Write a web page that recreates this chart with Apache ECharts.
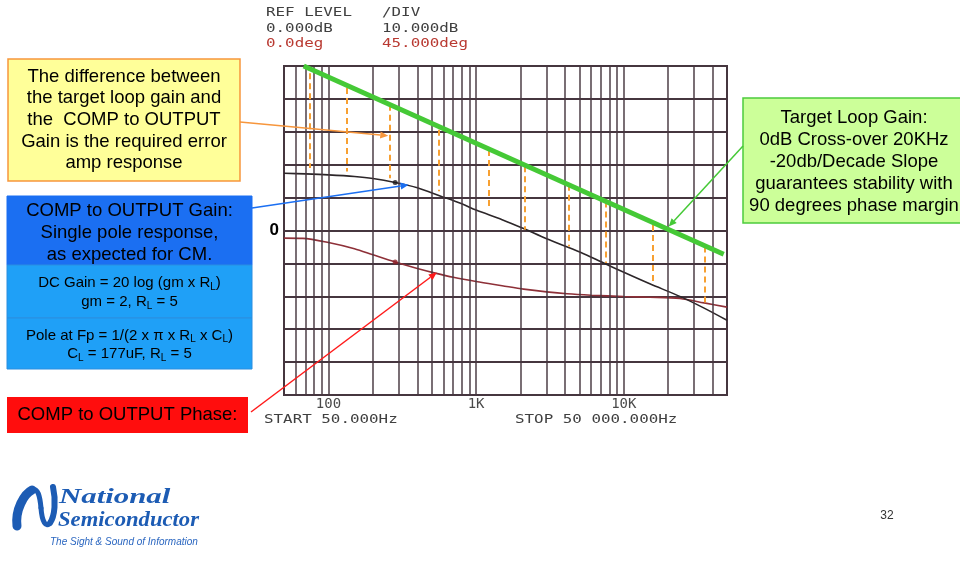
<!DOCTYPE html>
<html>
<head>
<meta charset="utf-8">
<script src="https://cdn.jsdelivr.net/npm/echarts@6/dist/echarts.min.js"></script>
<style>
  html, body { margin: 0; padding: 0; background: #ffffff; }
  #chart { width: 960px; height: 562px; }
</style>
</head>
<body>
<div id="chart"></div>
<script>
// ---- Frequency axis (log, 50 Hz .. 50 kHz) ----
const freqMin = 50;
const freqMax = 50000;
const gridFreqs = [60, 70, 80, 90, 100, 200, 300, 400, 500, 600, 700, 800, 900,
  1000, 2000, 3000, 4000, 5000, 6000, 7000, 8000, 9000, 10000, 20000, 30000, 40000];
const tickFreqs = [100, 1000, 10000];
const tickLabels = ['100', '1K', '10K'];

// ---- Gain axis: REF 0 dB, 10 dB/div; phase axis: REF 0 deg, 45 deg/div ----
const gainMin = -50, gainMax = 50, gainStep = 10;
const phaseMin = -225, phaseMax = 225, phaseStep = 45;

// ---- COMP to OUTPUT gain (dB) ----
const gainFreq = [50, 70, 100, 150, 200, 283, 400, 571, 800, 1000, 1500, 2095, 3000, 5080, 7310, 10000, 15000, 24200, 35000, 50000];
const gainDb   = [17.4, 17.2, 16.9, 16.4, 15.8, 14.6, 13.0, 10.5, 8.1, 6.2, 3.3, 0.6, -2.5, -6.6, -9.9, -12.7, -16.2, -20.1, -23.6, -27.3];

// ---- COMP to OUTPUT phase (deg) ----
const phaseFreq = [50, 67, 100, 150, 200, 283, 400, 528, 700, 1000, 1500, 2100, 3000, 4127, 6000, 10000, 15000, 24000, 35000, 50000];
const phaseDeg  = [-10.4, -10.8, -16.5, -25, -33.3, -43.2, -52, -58.3, -64, -69.8, -75.5, -80.2, -84, -86.6, -88.5, -90.3, -91.2, -93, -99, -104.8];

// ---- Target loop gain: 0 dB at 20 kHz, -20 dB/decade ----
const targetFreq = [68, 47500];
const targetDb   = [50, -7.2];

// ---- Required error-amp response (target minus plant), dashed spans ----
const diffFreq   = [75, 133, 259, 562, 1227, 2119, 4257, 7502, 15800, 35200];
const diffTop    = [47.8, 43.3, 38.2, 30.6, 24.5, 19.5, 13.9, 8.8, 1.7, -4.9];
const diffBottom = [19.0, 17.9, 15.9, 11.9, 6.3, 0.2, -4.9, -9.9, -16.5, -23.1];

// ---- Highlighted points at the pole region ----
const markGain  = [[283, 14.6]];
const markPhase = [[283, -43.2]];

const gridColor = '#46363f';
const monoFont = 'DejaVu Sans Mono';
const sansFont = 'Liberation Sans, Arial, sans-serif';

const chart = echarts.init(document.getElementById('chart'), null, { renderer: 'canvas' });

const option = {
  animation: false,
  backgroundColor: '#ffffff',
  grid: {
    left: 284, top: 66, width: 443, height: 329,
    show: true, borderColor: gridColor, borderWidth: 2, backgroundColor: 'transparent'
  },
  xAxis: {
    type: 'log', logBase: 10, min: freqMin, max: freqMax,
    axisLine: { show: false },
    axisTick: { show: false },
    splitLine: { show: false },
    axisLabel: {
      show: true, margin: 2, color: '#4a4a4a',
      fontFamily: monoFont, fontSize: 14,
      showMinLabel: false, showMaxLabel: false,
      formatter: function (v) {
        const i = tickFreqs.indexOf(Math.round(v));
        return i >= 0 ? tickLabels[i] : '';
      }
    }
  },
  yAxis: [
    {
      type: 'value', min: gainMin, max: gainMax, interval: gainStep,
      axisLine: { show: false }, axisTick: { show: false },
      splitLine: { show: true, lineStyle: { color: gridColor, width: 2 } },
      axisLabel: {
        show: true, margin: 5, color: '#000', fontFamily: sansFont,
        fontSize: 17, fontWeight: 'bold',
        formatter: function (v) { return v === 0 ? '0' : ''; }
      }
    },
    {
      type: 'value', min: phaseMin, max: phaseMax, interval: phaseStep,
      show: false, splitLine: { show: false }
    }
  ],
  series: [
    {
      // vertical log-paper rulings
      name: 'rulings', type: 'line', z: 1, silent: true,
      data: [[100, 0]], showSymbol: false, lineStyle: { opacity: 0 },
      markLine: {
        silent: true, symbol: ['none', 'none'], animation: false,
        label: { show: false },
        lineStyle: { color: gridColor, width: 1.6, type: 'solid', opacity: 0.9 },
        emphasis: { disabled: true },
        data: gridFreqs.map(f => ({ xAxis: f }))
      }
    },
    {
      name: 'COMP to OUTPUT Phase', type: 'line', yAxisIndex: 1, z: 3,
      smooth: 0.3, showSymbol: false, silent: true,
      lineStyle: { color: '#8e3038', width: 1.6 },
      data: phaseFreq.map((f, i) => [f, phaseDeg[i]])
    },
    {
      name: 'COMP to OUTPUT Gain', type: 'line', z: 3,
      smooth: 0.3, showSymbol: false, silent: true,
      lineStyle: { color: '#2c2629', width: 1.6 },
      data: gainFreq.map((f, i) => [f, gainDb[i]])
    },
    {
      name: 'Error amp response', type: 'lines', coordinateSystem: 'cartesian2d', z: 4,
      silent: true, polyline: false,
      lineStyle: { color: '#f7a032', width: 2, type: [6, 4], opacity: 1, curveness: 0 },
      data: diffFreq.map((f, i) => ({ coords: [[f, diffTop[i]], [f, diffBottom[i]]] }))
    },
    {
      name: 'Target Loop Gain', type: 'line', z: 5, silent: true,
      showSymbol: false,
      lineStyle: { color: '#45c936', width: 5 },
      data: targetFreq.map((f, i) => [f, targetDb[i]])
    },
    {
      type: 'scatter', z: 6, silent: true, symbolSize: 5,
      itemStyle: { color: '#1e1a1c' }, data: markGain
    },
    {
      type: 'scatter', yAxisIndex: 1, z: 6, silent: true, symbolSize: 5,
      itemStyle: { color: '#8e2028' }, data: markPhase
    }
  ]
};

chart.setOption(option);

// ---- annotation graphics ----
function txt(x, y, text, o) {
  o = o || {};
  return {
    type: 'text', x: x, y: y, z: 20, silent: true,
    scaleX: o.scaleX || 1,
    style: {
      text: text,
      fill: o.fill || '#000',
      fontFamily: o.fontFamily || sansFont,
      fontSize: o.fontSize || 18.5,
      fontWeight: o.fontWeight || 'normal',
      fontStyle: o.fontStyle || 'normal',
      align: o.align || 'center', textAlign: o.align || 'center',
      verticalAlign: 'middle', textVerticalAlign: 'middle',
      rich: o.rich
    }
  };
}
function rect(x, y, w, h, fill, stroke, lw) {
  return {
    type: 'rect', z: 15, silent: true,
    shape: { x: x, y: y, width: w, height: h },
    style: { fill: fill, stroke: stroke || null, lineWidth: lw || 0 }
  };
}
function arrow(x1, y1, x2, y2, color, width) {
  const ang = Math.atan2(y2 - y1, x2 - x1);
  const hl = 8, hw = 3.5;
  const bx = x2 - hl * Math.cos(ang), by = y2 - hl * Math.sin(ang);
  const nx = -Math.sin(ang), ny = Math.cos(ang);
  return [
    { type: 'line', z: 25, silent: true,
      shape: { x1: x1, y1: y1, x2: bx, y2: by },
      style: { stroke: color, lineWidth: width } },
    { type: 'polygon', z: 25, silent: true,
      shape: { points: [[x2, y2], [bx + nx * hw, by + ny * hw], [bx - nx * hw, by - ny * hw]] },
      style: { fill: color } }
  ];
}
function curve(p, color, w) {
  return {
    type: 'bezierCurve', z: 20, silent: true,
    shape: { x1: p[0], y1: p[1], cpx1: p[2], cpy1: p[3], cpx2: p[4], cpy2: p[5], x2: p[6], y2: p[7] },
    style: { stroke: color, lineWidth: w, fill: null, lineCap: 'round' }
  };
}

const subRich = {
  n: { fontSize: 15, fontFamily: sansFont, fill: '#000', lineHeight: 18 },
  s: { fontSize: 10, fontFamily: sansFont, fill: '#000', lineHeight: 10, verticalAlign: 'bottom' }
};

const gainPx = (f, v) => chart.convertToPixel({ seriesIndex: 2 }, [f, v]);
const phasePx = (f, v) => chart.convertToPixel({ seriesIndex: 1 }, [f, v]);
const tipOrange = gainPx(254, 28.8);
const tipBlue = gainPx(349, 13.9);
const tipRed = phasePx(542, -57.4);
const tipGreen = gainPx(20150, 1.2);

const header = { fontFamily: monoFont, fontSize: 13, align: 'left', scaleX: 1.22 };
const headRed = Object.assign({}, header, { fill: '#b93a32' });
const headGray = Object.assign({}, header, { fill: '#404040' });
const logoBlue = '#1d5cb4';

const elements = [
  // analyzer header
  txt(266, 13, 'REF LEVEL', headGray),
  txt(382, 13, '/DIV', headGray),
  txt(266, 28.5, '0.000dB', headGray),
  txt(382, 28.5, '10.000dB', headGray),
  txt(266, 43.5, '0.0deg', headRed),
  txt(382, 43.5, '45.000deg', headRed),
  // sweep range
  txt(264, 419.5, 'START 50.000Hz', headGray),
  txt(515, 419.5, 'STOP 50 000.000Hz', headGray),

  // yellow note
  rect(8, 59, 232, 122, '#ffff99', '#f7963c', 1.5),
  txt(124, 76.5, 'The difference between'),
  txt(124, 98.3, 'the target loop gain and'),
  txt(124, 120, 'the  COMP to OUTPUT'),
  txt(124, 141.7, 'Gain is the required error'),
  txt(124, 163.3, 'amp response'),

  // blue notes
  rect(7, 196, 245, 69, '#1b6ff2', '#1b6ff2', 1),
  txt(129.5, 210.7, 'COMP to OUTPUT Gain:'),
  txt(129.5, 232.7, 'Single pole response,'),
  txt(129.5, 255, 'as expected for CM.'),
  rect(7, 265, 245, 53, '#1fa0f7', '#2a8ee0', 1),
  txt(129.5, 283, '{n|DC Gain = 20 log (gm x R}{s|L}{n|)}', { rich: subRich }),
  txt(129.5, 302, '{n|gm = 2, R}{s|L}{n| = 5}', { rich: subRich }),
  rect(7, 318, 245, 51, '#1fa0f7', '#2a8ee0', 1),
  txt(129.5, 335.5, '{n|Pole at Fp = 1/(2 x \u03c0 x R}{s|L}{n| x C}{s|L}{n|)}', { rich: subRich }),
  txt(129.5, 354, '{n|C}{s|L}{n| = 177uF, R}{s|L}{n| = 5}', { rich: subRich }),

  // red note
  rect(7, 397, 241, 36, '#ff0d0d', null, 0),
  txt(127.5, 415, 'COMP to OUTPUT Phase:'),

  // green note
  rect(743, 98, 222, 125, '#ccff99', '#4ccc3c', 1.5),
  txt(854, 117.7, 'Target Loop Gain:'),
  txt(854, 140, '0dB Cross-over 20KHz'),
  txt(854, 161.7, '-20db/Decade Slope'),
  txt(854, 184.3, 'guarantees stability with'),
  txt(854, 206, '90 degrees phase margin'),

  // logo mark
  curve([17, 526, 15, 510, 24, 494, 32, 490], logoBlue, 9),
  curve([32, 490, 38, 487, 40, 497, 41, 508], logoBlue, 5),
  curve([41, 508, 42, 522, 46, 528, 50, 523], logoBlue, 5),
  curve([50, 523, 55, 516, 56, 500, 53, 487], logoBlue, 6),
  txt(59, 497, 'National', { align: 'left', fontFamily: 'Liberation Serif', fontSize: 22, fontWeight: 'bold', fontStyle: 'italic', fill: logoBlue, scaleX: 1.4 }),
  txt(58, 520, 'Semiconductor', { align: 'left', fontFamily: 'Liberation Serif', fontSize: 22, fontWeight: 'bold', fontStyle: 'italic', fill: logoBlue, scaleX: 1.03 }),
  txt(50, 542, 'The Sight & Sound of Information', { align: 'left', fontSize: 10, fontStyle: 'italic', fill: '#2a66c0' }),

  // page number
  txt(887, 516, '32', { fontSize: 12, fill: '#333' })
];

elements.push.apply(elements, arrow(240, 122, tipOrange[0], tipOrange[1], '#f7963c', 1.5));
elements.push.apply(elements, arrow(252, 208, tipBlue[0], tipBlue[1], '#1b6ff2', 1.5));
elements.push.apply(elements, arrow(251, 412, tipRed[0], tipRed[1], '#ff1a1a', 1.5));
elements.push.apply(elements, arrow(743, 146, tipGreen[0], tipGreen[1], '#45c936', 1.5));

chart.setOption({ graphic: { elements: elements } });
</script>
</body>
</html>
